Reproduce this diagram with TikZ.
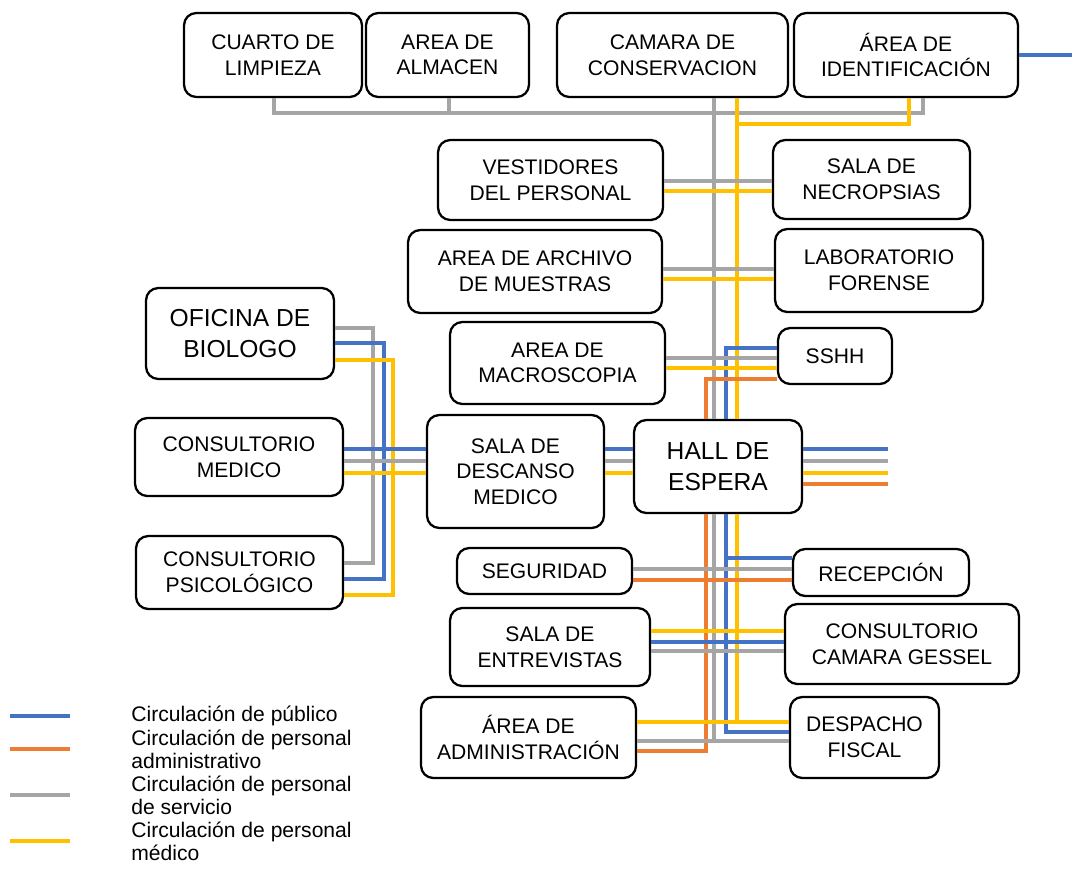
\documentclass[tikz,border=0pt]{standalone}
\usepackage{fontspec}
\setmainfont{Liberation Sans}
\usetikzlibrary{positioning}
\definecolor{cpub}{HTML}{4472C4}
\definecolor{cadm}{HTML}{ED7D31}
\definecolor{cser}{HTML}{A5A5A5}
\definecolor{cmed}{HTML}{FFC000}

\begin{document}
\begin{tikzpicture}[x=0.02cm, y=-0.02cm,
    room/.style={draw, rounded corners=7pt, line width=1.3pt, fill=white,
                 align=center, inner sep=2pt,
                 font=\fontsize{12}{14.6}\selectfont},
    bigroom/.style={room, font=\fontsize{14}{17.5}\selectfont},
    pub/.style={cpub, line width=2.2pt},
    adm/.style={cadm, line width=2.2pt},
    ser/.style={cser, line width=2.2pt},
    med/.style={cmed, line width=2.2pt},
    legtext/.style={anchor=west, align=left, inner sep=0pt,
                    font=\fontsize{12}{13}\selectfont},
]
\useasboundingbox (0,0) rectangle (1072,887);

% --- Top row ---
\node[room, minimum width=3.56cm, minimum height=1.68cm] (limpieza) at (273,55)
    {CUARTO DE\\LIMPIEZA};
\node[room, minimum width=3.26cm, minimum height=1.68cm] (almacen) at (447.5,55)
    {AREA DE\\ALMACEN};
\node[room, minimum width=4.62cm, minimum height=1.68cm] (camara) at (672.5,55)
    {CAMARA DE\\CONSERVACION};
\node[room, minimum width=4.48cm, minimum height=1.68cm] (identif) at (906,55)
    {ÁREA DE\\IDENTIFICACIÓN};

% --- Middle rows ---
\node[room, minimum width=4.50cm, minimum height=1.60cm] (vest) at (550.5,180)
    {VESTIDORES\\DEL PERSONAL};
\node[room, minimum width=3.94cm, minimum height=1.58cm] (necro) at (871.5,179.5)
    {SALA DE\\NECROPSIAS};
\node[room, minimum width=5.08cm, minimum height=1.66cm] (archivo) at (535,271.5)
    {AREA DE ARCHIVO\\DE MUESTRAS};
\node[room, minimum width=4.16cm, minimum height=1.66cm] (labo) at (879,270.5)
    {LABORATORIO\\FORENSE};
\node[room, minimum width=4.30cm, minimum height=1.64cm] (macro) at (557.5,363)
    {AREA DE\\MACROSCOPIA};
\node[room, minimum width=2.28cm, minimum height=1.12cm] (sshh) at (835,356)
    {SSHH};

% --- Medical wing ---
\node[bigroom, minimum width=3.76cm, minimum height=1.82cm] (biologo) at (240,333.5)
    {OFICINA DE\\BIOLOGO};
\node[room, minimum width=4.16cm, minimum height=1.56cm] (medico) at (239,457)
    {CONSULTORIO\\MEDICO};
\node[room, minimum width=4.14cm, minimum height=1.46cm] (psico) at (239.5,572.5)
    {CONSULTORIO\\PSICOLÓGICO};
\node[room, minimum width=3.54cm, minimum height=2.26cm] (descanso) at (515.5,471.5)
    {SALA DE\\DESCANSO\\MEDICO};
\node[bigroom, minimum width=3.36cm, minimum height=1.86cm] (hall) at (718,466.5)
    {HALL DE\\ESPERA};

% --- Lower rows ---
\node[room, minimum width=3.50cm, minimum height=0.92cm] (seguridad) at (544.5,571)
    {SEGURIDAD};
\node[room, minimum width=3.52cm, minimum height=0.94cm] (recepcion) at (881,572.5)
    {RECEPCIÓN};
\node[room, minimum width=4.00cm, minimum height=1.56cm] (entrevistas) at (550,647)
    {SALA DE\\ENTREVISTAS};
\node[room, minimum width=4.68cm, minimum height=1.60cm] (gessel) at (902,644)
    {CONSULTORIO\\CAMARA GESSEL};
\node[room, minimum width=4.30cm, minimum height=1.62cm] (admin) at (528.5,737.5)
    {ÁREA DE\\ADMINISTRACIÓN};
\node[room, minimum width=2.98cm, minimum height=1.62cm] (despacho) at (864.5,737.5)
    {DESPACHO\\FISCAL};

% --- Free ends ---
\coordinate (railL) at (449,113);
\coordinate (ymed) at (737,124);
\coordinate (exitNE) at (1072,55);
\coordinate (exitE) at (888,0);

% --- Top rail ---
\draw[ser] (limpieza.south -| 274,0) |- (railL) -| (identif.south -| 923,0);
\draw[ser] (almacen.south -| railL) -- (railL);
\draw[med] (identif.south -| 909,0) |- (ymed);
\draw[pub] (identif.east) -- (exitNE);

% --- Trunk above hall ---
\draw[ser] (camara.south -| 714,0) -- (hall.north -| 714,0);
\draw[med] (camara.south -| 737,0) -- (hall.north -| 737,0);
\draw[pub] (hall.north -| 726,0) |- (sshh.west |- 0,348);
\draw[adm] (hall.north -| 706,0) |- (sshh.west |- 0,379);

\draw[ser] (vest.east |- 0,181) -- (necro.west |- 0,181);
\draw[med] (vest.east |- 0,191) -- (necro.west |- 0,191);
\draw[ser] (archivo.east |- 0,269) -- (labo.west |- 0,269);
\draw[med] (archivo.east |- 0,279) -- (labo.west |- 0,279);
\draw[ser] (macro.east |- 0,358) -- (sshh.west |- 0,358);
\draw[med] (macro.east |- 0,368) -- (sshh.west |- 0,368);

% --- Medical wing ---
\draw[ser] (biologo.east |- 0,328) -| (373,563) -- (psico.east |- 0,563);
\draw[pub] (biologo.east |- 0,343) -| (384,579) -- (psico.east |- 0,579);
\draw[med] (biologo.east |- 0,360) -| (393,595) -- (psico.east |- 0,595);
\draw[pub] (medico.east |- 0,449) -- (descanso.west |- 0,449);
\draw[ser] (medico.east |- 0,461) -- (descanso.west |- 0,461);
\draw[med] (medico.east |- 0,473) -- (descanso.west |- 0,473);
\draw[pub] (descanso.east |- 0,449) -- (hall.west |- 0,449);
\draw[ser] (descanso.east |- 0,461) -- (hall.west |- 0,461);
\draw[med] (descanso.east |- 0,473) -- (hall.west |- 0,473);

% --- Hall east ---
\draw[pub] (hall.east |- 0,449) -- (exitE |- 0,449);
\draw[ser] (hall.east |- 0,461) -- (exitE |- 0,461);
\draw[med] (hall.east |- 0,473) -- (exitE |- 0,473);
\draw[adm] (hall.east |- 0,484) -- (exitE |- 0,484);

% --- Trunk below hall ---
\draw[adm] (hall.south -| 706,0) |- (admin.east |- 0,751);
\draw[ser] (hall.south -| 714,0) -- (714,741);
\draw[pub] (hall.south -| 726,0) |- (despacho.west |- 0,732);
\draw[med] (hall.south -| 737,0) -- (737,722);
\draw[pub] (726,558) -- (recepcion.west |- 0,558);

\draw[ser] (seguridad.east |- 0,569) -- (recepcion.west |- 0,569);
\draw[adm] (seguridad.east |- 0,580) -- (recepcion.west |- 0,580);
\draw[med] (entrevistas.east |- 0,631) -- (gessel.west |- 0,631);
\draw[pub] (entrevistas.east |- 0,642) -- (gessel.west |- 0,642);
\draw[ser] (entrevistas.east |- 0,651) -- (gessel.west |- 0,651);
\draw[med] (admin.east |- 0,722) -- (despacho.west |- 0,722);
\draw[ser] (admin.east |- 0,741) -- (despacho.west |- 0,741);

% --- Legend ---
\node[legtext] (lpub) at (131,716) {Circulación de público};
\node[legtext] (ladm) at (131,749) {Circulación de personal\\administrativo};
\node[legtext] (lser) at (131,795) {Circulación de personal\\de servicio};
\node[legtext] (lmed) at (131,841) {Circulación de personal\\médico};
\draw[pub] (lpub.west) ++(-61,0) -- ++(-60,0);
\draw[adm] (ladm.west) ++(-61,0) -- ++(-60,0);
\draw[ser] (lser.west) ++(-61,0) -- ++(-60,0);
\draw[med] (lmed.west) ++(-61,0) -- ++(-60,0);
\end{tikzpicture}
\end{document}
